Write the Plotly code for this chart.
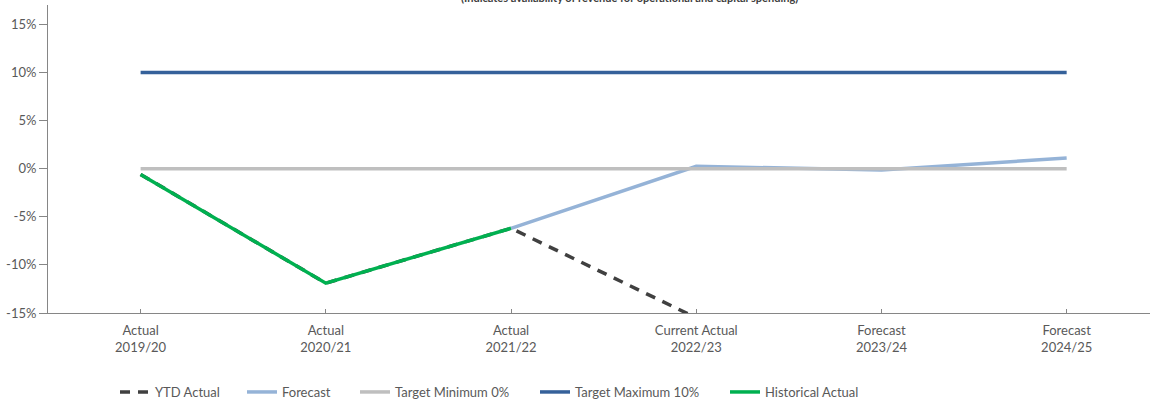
import plotly.graph_objects as go

# Financial years shown on the category axis
years = ["Actual<br>2019/20", "Actual<br>2020/21", "Actual<br>2021/22",
         "Current Actual<br>2022/23", "Forecast<br>2023/24", "Forecast<br>2024/25"]

# Operating surplus ratio (%) per series
ytd_actual = [-0.6, -11.9, -6.2, -15.5, None, None]
forecast = [None, None, -6.2, 0.25, -0.15, 1.1]
target_min = [0, 0, 0, 0, 0, 0]
target_max = [10, 10, 10, 10, 10, 10]
historical = [-0.6, -11.9, -6.2, None, None, None]

FONT = "Lato, Liberation Sans, Arial"
TEXT = "#595959"

series = [
    ("YTD Actual", ytd_actual, dict(color="#404040", width=3.5, dash="10px,8px")),
    ("Forecast", forecast, dict(color="#95B3D7", width=3.5)),
    ("Target Minimum 0%", target_min, dict(color="#BFBFBF", width=3.5)),
    ("Target Maximum 10%", target_max, dict(color="#35619A", width=3.5)),
    ("Historical Actual", historical, dict(color="#00B050", width=3.5)),
]
# one legend per series so each entry sits at its own horizontal position
legend_x = [115, 242, 355, 535, 725]

fig = go.Figure()
layout_legends = {}
for i, (name, vals, line) in enumerate(series):
    key = "legend" if i == 0 else f"legend{i + 1}"
    fig.add_trace(go.Scatter(x=years, y=vals, name=name, mode="lines",
                             line=line, legend=key))
    layout_legends[key] = dict(orientation="h", x=legend_x[i] / 1150, xref="container",
                               y=9 / 401, yref="container", xanchor="left",
                               yanchor="middle", bgcolor="rgba(0,0,0,0)",
                               font=dict(family=FONT, size=13, color=TEXT))

fig.add_annotation(text="<b>(Indicates availability of revenue for operational and capital spending)</b>",
                   xref="paper", yref="paper", x=0.528, y=0.997, yanchor="bottom",
                   showarrow=False, font=dict(family=FONT, size=11, color="#404040"))

fig.update_layout(
    width=1150, height=401,
    margin=dict(l=48, r=0, t=5, b=88),
    paper_bgcolor="white", plot_bgcolor="white",
    font=dict(family=FONT, size=13, color=TEXT),
    showlegend=True,
    xaxis=dict(type="category", range=[-0.5, 5.45], showline=True, linecolor="#868686",
               linewidth=1, ticks="inside", ticklen=4, tickcolor="#868686",
               ticklabelstandoff=5,
               showgrid=False, zeroline=False, tickfont=dict(size=13, color=TEXT)),
    yaxis=dict(range=[-15, 17], tickvals=[-15, -10, -5, 0, 5, 10, 15],
               ticktext=["-15%", "-10%", "-5%", "0%", "5%", "10%", "15%"],
               showline=True, linecolor="#868686", linewidth=1, ticks="outside",
               ticklen=8, tickcolor="#868686", showgrid=False, zeroline=False,
               tickfont=dict(size=13, color=TEXT)),
    **layout_legends,
)

fig.write_html("out.html")
